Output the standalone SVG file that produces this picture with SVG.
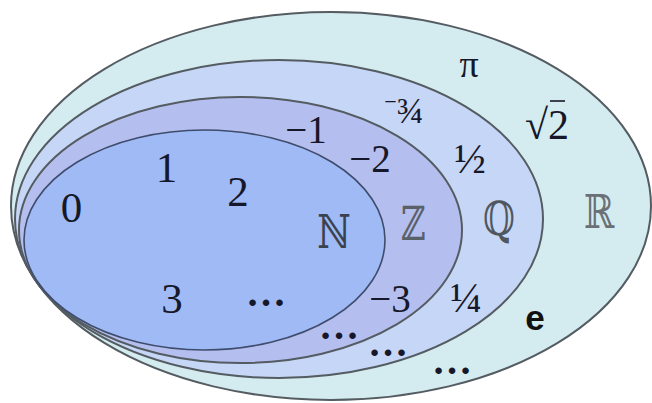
<svg xmlns="http://www.w3.org/2000/svg" width="652" height="403" viewBox="0 0 652 403">
<style>
.set{stroke:#545c62;stroke-width:2}
.num{font-family:"Liberation Serif","Times New Roman","DejaVu Serif",serif;fill:#16182a;text-anchor:middle}
.bb{font-family:"DejaVu Serif",serif;text-anchor:middle;font-size:47px}
.dots{font-family:"Liberation Serif","Times New Roman",serif;font-weight:bold;font-size:40px;fill:#16182a;text-anchor:middle}
</style>
<rect width="652" height="403" fill="#ffffff"/>
<g id="set-R">
<ellipse class="set" cx="331" cy="206" rx="320" ry="194" fill="#d4ecf0"/>
</g>
<g id="set-Q">
<ellipse class="set" cx="279" cy="219" rx="264" ry="159" fill="#c6d6f6"/>
</g>
<g id="set-Z">
<ellipse class="set" cx="240.5" cy="230" rx="221.5" ry="133" fill="#b4bff0" stroke-width="1.8"/>
</g>
<g id="set-N">
<ellipse cx="204.5" cy="240" rx="180.5" ry="110" fill="#9fbaf5" stroke="#3f4c6c" stroke-width="1.6"/>
</g>
<g id="labels-N">
<text class="num" x="71.5" y="222" font-size="43">0</text>
<text class="num" x="166.5" y="182" font-size="43">1</text>
<text class="num" x="238" y="206" font-size="43">2</text>
<text class="num" x="172" y="313" font-size="43">3</text>
<text class="dots" x="266" y="306">…</text>
<text class="bb" x="334" y="248" fill="#3a4250" transform="translate(334 0) scale(0.78 1) translate(-334 0)">ℕ</text>
</g>
<g id="labels-Z">
<text class="num" x="306" y="143" font-size="39">−1</text>
<text class="num" x="370" y="172" font-size="39">−2</text>
<text class="num" x="390" y="312" font-size="39">−3</text>
<text class="dots" x="339" y="339">…</text>
<text class="bb" x="413" y="240" fill="#5a6068" transform="translate(413 0) scale(0.72 1) translate(-413 0)">ℤ</text>
</g>
<g id="labels-Q">
<text class="num" x="404" y="123" font-size="36"><tspan font-size="22" dy="-14">−</tspan><tspan dy="14">¾</tspan></text>
<text class="num" x="470" y="173" font-size="42">½</text>
<text class="num" x="466" y="312" font-size="42">¼</text>
<text class="dots" x="388" y="356">…</text>
<text class="bb" x="499" y="235" fill="#50565e" transform="translate(499 0) scale(0.78 1) translate(-499 0)">ℚ</text>
</g>
<g id="labels-R">
<text class="num" x="469" y="77" font-size="38">π</text>
<text class="num" x="547" y="139" font-size="42">√2</text>
<line x1="550" y1="101" x2="565" y2="101" stroke="#16182a" stroke-width="1.6"/>
<text x="535" y="330" font-family="Liberation Sans,Arial,sans-serif" font-weight="bold" font-size="35" fill="#111" text-anchor="middle">e</text>
<text class="dots" x="452" y="374">…</text>
<text class="bb" x="599" y="228" fill="#6a7076" transform="translate(599 0) scale(0.78 1) translate(-599 0)">ℝ</text>
</g>
</svg>
